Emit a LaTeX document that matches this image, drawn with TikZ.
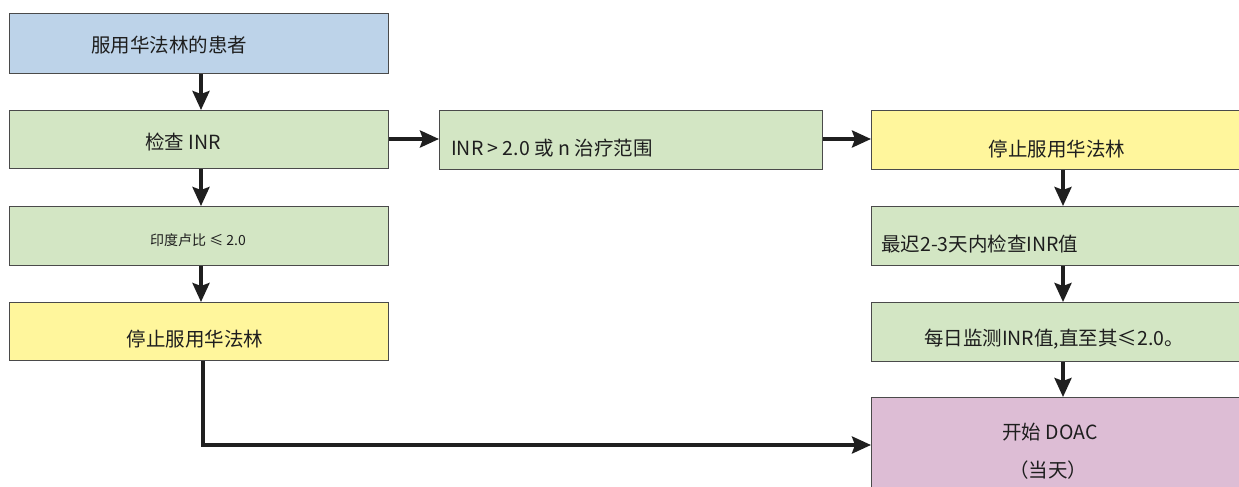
\documentclass[tikz,border=0pt]{standalone}
\usepackage{fontspec}
\setmainfont{Noto Sans CJK SC}
\usetikzlibrary{arrows.meta}
\definecolor{cblue}{HTML}{BDD3E9}
\definecolor{cgreen}{HTML}{D3E6C4}
\definecolor{cyellow}{HTML}{FFF69C}
\definecolor{cpink}{HTML}{DDBDD5}
\definecolor{cedge}{HTML}{4A4A4A}
\definecolor{ctext}{HTML}{1E1E1E}
\tikzset{
  box/.style={draw=cedge, line width=1.3pt, rectangle, inner sep=0pt, anchor=north west},
  lbl/.style={text=ctext, font=\fontsize{19.5}{22}\selectfont, inner sep=0pt},
  flow/.style={line width=3.6pt, draw=black!88, -{Stealth[length=19pt,width=17pt,inset=3pt]}},
}
\begin{document}
\begin{tikzpicture}[x=1pt,y=-1pt]
\useasboundingbox[fill=white] (0,0) rectangle (1239,487);
% boxes: positions in pixels
\node[box, fill=cblue, minimum width=379pt, minimum height=60pt] (b1) at (9,13) {};
\node[box, fill=cgreen, minimum width=379pt, minimum height=58pt] (b2) at (9,110) {};
\node[box, fill=cgreen, minimum width=379pt, minimum height=59pt] (b3) at (9,206) {};
\node[box, fill=cyellow, minimum width=379pt, minimum height=58pt] (b4) at (9,302) {};
\node[box, fill=cgreen, minimum width=383pt, minimum height=59pt] (b5) at (439,110) {};
\node[box, fill=cyellow, minimum width=380pt, minimum height=59pt] (b6) at (871,110) {};
\node[box, fill=cgreen, minimum width=380pt, minimum height=59pt] (b7) at (871,206) {};
\node[box, fill=cgreen, minimum width=380pt, minimum height=59pt] (b8) at (871,302) {};
\node[box, fill=cpink, minimum width=380pt, minimum height=100pt] (b9) at (871,397) {};
% labels
\node[lbl] (t1) at (169,45) {服用华法林的患者};
\node[lbl] (t2) at (183,142) {检查 INR};
\node[lbl, font=\fontsize{14}{16}\selectfont] (t3) at (198,240) {印度卢比 ≤ 2.0};
\node[lbl] (t4) at (195,339) {停止服用华法林};
\node[lbl, anchor=west] (t5) at (451,148) {INR > 2.0 或 n 治疗范围};
\node[lbl] (t6) at (1057,149) {停止服用华法林};
\node[lbl, anchor=west] (t7) at (881,244) {最迟2-3天内检查INR值};
\node[lbl] (t8) at (1054,339) {每日监测INR值,直至其≤2.0。};
\node[lbl] (t9) at (1050,432) {开始 DOAC};
\node[lbl] (t10) at (1048,470) {（当天）};
% connectors
\draw[flow] (b1.south -| 201,0) -- (b2.north -| 201,0);
\draw[flow] (b2.south -| 201,0) -- (b3.north -| 201,0);
\draw[flow] (b3.south -| 201,0) -- (b4.north -| 201,0);
\draw[flow] (b2.east |- 0,139) -- (b5.west |- 0,139);
\draw[flow] (b5.east |- 0,139) -- (b6.west |- 0,139);
\draw[flow] (b6.south -| 1063,0) -- (b7.north -| 1063,0);
\draw[flow] (b7.south -| 1063,0) -- (b8.north -| 1063,0);
\draw[flow] (b8.south -| 1063,0) -- (b9.north -| 1063,0);
\coordinate (corner) at (203,445);
\draw[flow] (b4.south -| 203,0) -- (corner) -- (b9.west |- corner);
\end{tikzpicture}
\end{document}
